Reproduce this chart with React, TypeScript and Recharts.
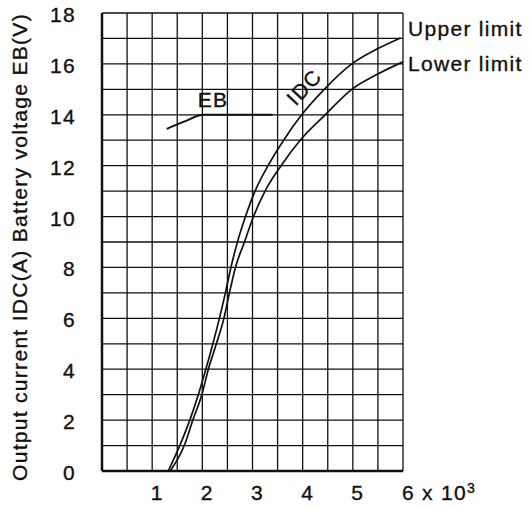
import { LineChart, Line, XAxis, YAxis, CartesianGrid } from "recharts";

// grid every 0.5 x 10^3 on x, every 1 on y; labels only on some
const xGridTicks = [0, 0.5, 1, 1.5, 2, 2.5, 3, 3.5, 4, 4.5, 5, 5.5, 6];
const xLabelTicks = [1, 2, 3, 4, 5, 6];
const yGridTicks = [0, 1, 2, 3, 4, 5, 6, 7, 8, 9, 10, 11, 12, 13, 14, 15, 16, 17, 18];
const yLabelTicks = [0, 2, 4, 6, 8, 10, 12, 14, 16, 18];

// IDC upper limit (speed x10^3, current A)
const upperSpeed = [1.32, 1.55, 1.75, 1.92, 2.07, 2.21, 2.34, 2.46, 2.57, 2.7, 2.86, 3.05, 3.31, 3.62, 3.98, 4.43, 4.98, 5.5, 5.95];
const upperCurrent = [0, 1, 2, 3, 4, 5, 6, 7, 8, 9, 10, 11, 12, 13, 14, 15, 16, 16.6, 17.02];

// IDC lower limit
const lowerSpeed = [1.36, 1.64, 1.81, 1.99, 2.12, 2.28, 2.43, 2.54, 2.66, 2.84, 3.02, 3.25, 3.57, 3.95, 4.45, 4.98, 5.45, 5.91, 6.0];
const lowerCurrent = [0, 1, 2, 3, 4, 5, 6, 7, 8, 9, 10, 11, 12, 13, 14, 15, 15.55, 16.0, 16.08];

// battery voltage EB
const ebSpeed = [1.29, 1.65, 2.02, 2.6, 3.4];
const ebVoltage = [13.45, 13.74, 14.0, 14.0, 14.0];

const toPoints = (xs: number[], ys: number[]) => xs.map((x, i) => ({ x, y: ys[i] }));

const upperData = toPoints(upperSpeed, upperCurrent);
const lowerData = toPoints(lowerSpeed, lowerCurrent);
const ebData = toPoints(ebSpeed, ebVoltage);

const font = {
  fontFamily: "'Liberation Sans', Arial, sans-serif",
  fontSize: 21,
  letterSpacing: 1.3,
  fill: "#111",
  stroke: "#111",
  strokeWidth: 0.35,
};

const XTick = (props: any) => {
  const { x, payload } = props;
  const v = payload.value;
  if (!xLabelTicks.includes(v)) return <g />;
  if (v === 6) {
    return (
      <text x={x - 1} y={500} textAnchor="start" style={font}>
        6 x 10
        <tspan dy={-7} style={{ fontSize: 14 }}>3</tspan>
      </text>
    );
  }
  return (
    <text x={x + 5} y={500} textAnchor="middle" style={font}>
      {v}
    </text>
  );
};

const YTick = (props: any) => {
  const { y, payload } = props;
  const v = payload.value;
  if (!yLabelTicks.includes(v)) return <g />;
  return (
    <text x={76} y={y + 9} textAnchor="end" style={font}>
      {v}
    </text>
  );
};

export default function App() {
  return (
    <div style={{ position: "absolute", left: 0, top: 0, width: 529, height: 509, background: "#fff" }}>
      <LineChart
        width={529}
        height={509}
        margin={{ top: 13, right: 126, bottom: 8, left: 42 }}
      >
        <CartesianGrid stroke="#111" strokeWidth={1.3} />
        <XAxis
          dataKey="x"
          type="number"
          domain={[0, 6]}
          ticks={xGridTicks}
          interval={0}
          tick={<XTick />}
          tickLine={false}
          axisLine={{ stroke: "#111", strokeWidth: 2.5 }}
          height={30}
          allowDataOverflow
        />
        <YAxis
          type="number"
          domain={[0, 18]}
          ticks={yGridTicks}
          interval={0}
          tick={<YTick />}
          tickLine={false}
          axisLine={{ stroke: "#111", strokeWidth: 2.5 }}
          width={60}
          allowDataOverflow
        />
        <Line data={upperData} dataKey="y" type="monotone" stroke="#111" strokeWidth={1.7} dot={false} isAnimationActive={false} />
        <Line data={lowerData} dataKey="y" type="monotone" stroke="#111" strokeWidth={1.7} dot={false} isAnimationActive={false} />
        <Line data={ebData} dataKey="y" type="monotone" stroke="#111" strokeWidth={1.9} dot={false} isAnimationActive={false} />
      </LineChart>
      <svg
        width={529}
        height={509}
        style={{ position: "absolute", left: 0, top: 0, pointerEvents: "none" }}
      >
        <g transform="translate(27, 247) rotate(-90)">
          <text x={0} y={0} textAnchor="middle" style={font}>
            Output current IDC(A)  Battery voltage EB(V)
          </text>
        </g>
        <text x={408} y={36} style={font}>Upper limit</text>
        <text x={408} y={71} style={font}>Lower limit</text>
        <text x={213} y={107} textAnchor="middle" style={font}>EB</text>
        <g transform="translate(304, 87) rotate(-47)">
          <text x={0} y={7.5} textAnchor="middle" style={font}>IDC</text>
        </g>
      </svg>
    </div>
  );
}
